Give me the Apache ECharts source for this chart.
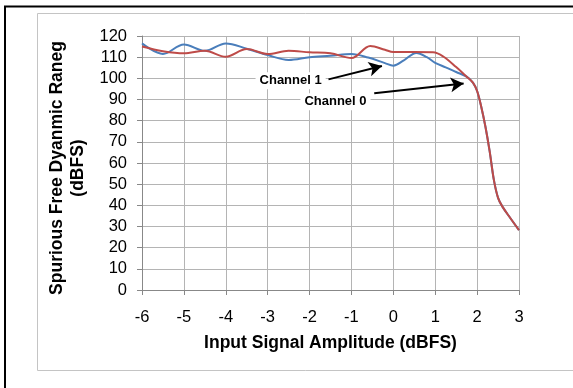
<!DOCTYPE html>
<html>
<head>
<meta charset="utf-8">
<script src="https://cdn.jsdelivr.net/npm/echarts@6/dist/echarts.min.js"></script>
<style>
  html, body { margin: 0; padding: 0; background: #fff; }
  #main { width: 573px; height: 388px; }
</style>
</head>
<body>
<div id="main"></div>
<script>
// values: [input dBFS, SFDR]
var channel1 = [
  [-6, 116.5], [-5.5, 111.5], [-5, 116], [-4.5, 113], [-4, 116.5], [-3.5, 114],
  [-3, 111], [-2.5, 108.7], [-2, 110], [-1.5, 110.7], [-1, 111.5], [-0.6, 109.8],
  [-0.2, 107.2], [0, 106], [0.25, 108.5], [0.55, 112], [0.8, 110], [1, 107.3],
  [1.25, 105.2], [1.5, 103], [1.75, 100.8], [1.9, 98], [2, 94], [2.1, 86.5],
  [2.2, 77], [2.3, 65.5], [2.4, 52], [2.5, 43.5], [2.6, 39.5], [2.8, 33.8], [3, 28.3]
];
var channel0 = [
  [-6, 115], [-5.5, 112.8], [-5, 111.8], [-4.5, 113], [-4, 110.2], [-3.5, 113.8],
  [-3, 111.5], [-2.5, 113], [-2, 112.3], [-1.5, 111.8], [-1, 109.6], [-0.55, 115.3],
  [-0.2, 113.5], [0, 112.4], [0.5, 112.4], [0.95, 112.3], [1.2, 110.2], [1.5, 105.3],
  [1.75, 100.8], [1.9, 98], [2, 94], [2.1, 86.5],
  [2.2, 77], [2.3, 65.5], [2.4, 52], [2.5, 43.5], [2.6, 39.5], [2.8, 33.8], [3, 28.3]
];
var xTicks = [-6, 3, 1];   // min, max, step
var yTicks = [0, 120, 10];
// callouts: label position and arrow from/to, in data units
var calloutLabels = [
  { name: 'Channel 1', coord: [-2.452, 98.9] },
  { name: 'Channel 0', coord: [-1.381, 88.9] }
];
var calloutArrows = [
  [[-1.548, 99.5], [-0.272, 105.8]],
  [[-0.456, 92.9], [1.678, 97.6]]
];

var chart = echarts.init(document.getElementById('main'), null, { renderer: 'canvas' });
var font = '"Liberation Sans", Arial, sans-serif';

var option = {
  backgroundColor: '#fff',
  animation: false,
  graphic: [
    { type: 'rect', shape: { x: 5, y: 6.5, width: 700, height: 500 }, style: { fill: 'none', stroke: '#000', lineWidth: 2 }, silent: true },
    { type: 'rect', shape: { x: 37.5, y: 13.5, width: 700, height: 357 }, style: { fill: 'none', stroke: '#c4c4c4', lineWidth: 1 }, silent: true }
  ],
  grid: { left: 142, top: 36, right: 54, bottom: 98 },
  xAxis: {
    type: 'value',
    min: xTicks[0], max: xTicks[1], interval: xTicks[2],
    name: 'Input Signal Amplitude (dBFS)',
    nameLocation: 'middle',
    nameGap: 44,
    nameTextStyle: { fontFamily: font, fontWeight: 'bold', fontSize: 17.5, color: '#000' },
    axisLine: { show: true, onZero: false, lineStyle: { color: '#888', width: 1 } },
    axisTick: { show: true, length: 5, lineStyle: { color: '#888' } },
    axisLabel: { margin: 19, fontFamily: font, fontSize: 16.5, color: '#000' },
    splitLine: { show: true, lineStyle: { color: '#b4b4b4', width: 1 } }
  },
  yAxis: {
    type: 'value',
    min: yTicks[0], max: yTicks[1], interval: yTicks[2],
    name: 'Spurious Free Dyanmic Raneg\n(dBFS)',
    nameLocation: 'middle',
    nameGap: 50,
    nameTextStyle: { fontFamily: font, fontWeight: 'bold', fontSize: 17.5, lineHeight: 21, color: '#000', padding: [0, 10, 0, 0] },
    axisLine: { show: true, onZero: false, lineStyle: { color: '#888', width: 1 } },
    axisTick: { show: true, length: 5, lineStyle: { color: '#888' } },
    axisLabel: { margin: 15, fontFamily: font, fontSize: 16.5, color: '#000' },
    splitLine: { show: true, lineStyle: { color: '#b4b4b4', width: 1 } }
  },
  series: [
    {
      name: 'Channel 1', type: 'line', data: channel1, smooth: 0.35,
      showSymbol: false, lineStyle: { color: '#4a7ebb', width: 2 }, itemStyle: { color: '#4a7ebb' }
    },
    {
      name: 'Channel 0', type: 'line', data: channel0, smooth: 0.35,
      showSymbol: false, lineStyle: { color: '#be4b48', width: 2 }, itemStyle: { color: '#be4b48' }
    },
    {
      name: 'callouts', type: 'line', data: [], z: 5,
      markLine: {
        silent: true,
        symbol: ['none', 'arrow'],
        symbolSize: [11, 13],
        label: { show: false },
        lineStyle: { color: '#000', width: 2, type: 'solid' },
        data: calloutArrows.map(function (a) { return [{ coord: a[0] }, { coord: a[1] }]; })
      },
      markPoint: {
        silent: true,
        symbol: 'rect',
        symbolSize: 0,
        label: {
          show: true, position: 'inside', formatter: '{b}',
          fontFamily: font, fontWeight: 'bold', fontSize: 13, color: '#000',
          backgroundColor: '#fff', padding: [2, 4]
        },
        data: calloutLabels.map(function (c) { return { name: c.name, coord: c.coord }; })
      }
    }
  ]
};
chart.setOption(option);
</script>
</body>
</html>
